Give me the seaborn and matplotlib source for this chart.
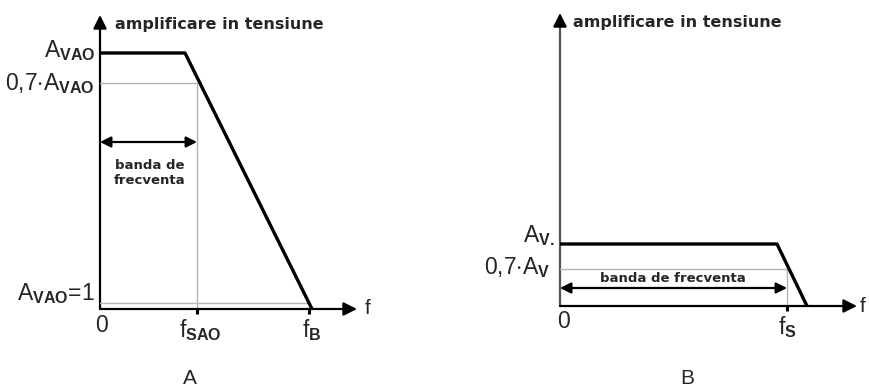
import matplotlib
matplotlib.use("Agg")
import matplotlib.pyplot as plt
import seaborn as sns

# Panel A (amplifier with AO, large gain)
freq_A = [0, 85, 212]
gain_A = [256, 256, 0]
cut_A = 97          # f_SAO
fB_A = 209          # f_B
level07_A = 226     # 0,7*A_VAO
unity_A = 6         # A_VAO = 1
band_y_A = 167

# Panel B (lower gain, wider band)
freq_B = [0, 217, 247]
gain_B = [62, 62, 0]
cut_B = 227         # f_S
level07_B = 37      # 0,7*A_V
band_y_B = 18

sns.set_theme(style="white")
plt.rcParams["font.family"] = ["Liberation Sans", "DejaVu Sans"]
plt.rcParams["mathtext.fontset"] = "custom"
plt.rcParams["mathtext.rm"] = "Liberation Sans"
plt.rcParams["mathtext.bf"] = "Liberation Sans:bold"
plt.rcParams["mathtext.it"] = "Liberation Sans"

W, H = 869, 391
fig = plt.figure(figsize=(W / 100, H / 100), dpi=100)
fig.patch.set_facecolor("white")


def make_axes(ox, oy, w, h):
    ax = fig.add_axes([ox / W, (H - oy) / H, w / W, h / H])
    ax.set_xlim(0, w)
    ax.set_ylim(0, h)
    ax.axis("off")
    return ax


def arrow(ax, start, end, color="black", style="-|>", scale=20):
    ax.annotate("", xy=end, xytext=start,
                arrowprops=dict(arrowstyle=style, color=color, lw=1.6,
                                mutation_scale=scale, shrinkA=0, shrinkB=0),
                annotation_clip=False)


def axis_arrows(ax, xtip, ytip, ycolor="black"):
    arrow(ax, (0, 0), (xtip, 0))
    # axis line in its own colour, black head on top
    ax.plot([0, 0], [0, ytip - 8], color=ycolor, lw=1.6, clip_on=False)
    arrow(ax, (0, ytip - 10), (0, ytip))


grey = "#b4b4b4"
title_kw = dict(fontsize=11.5, fontweight="bold", family="DejaVu Sans",
                ha="left", va="center")
band_kw = dict(fontsize=9.5, fontweight="bold", family="DejaVu Sans",
               ha="center", va="center")
lab = 16.5

# ---------------- Panel A ----------------
axA = make_axes(100, 309, 280, 300)
axis_arrows(axA, 257, 294)
axA.plot([0, cut_A], [level07_A, level07_A], color=grey, lw=1)
axA.plot([cut_A, cut_A], [0, level07_A], color=grey, lw=1)
axA.plot([0, fB_A], [unity_A, unity_A], color=grey, lw=1)
sns.lineplot(x=freq_A, y=gain_A, ax=axA, color="black", linewidth=2.4,
             sort=False, estimator=None)
for xt in (cut_A, fB_A):
    axA.plot([xt, xt], [0, -5], color="black", lw=2.2, clip_on=False,
             solid_capstyle="butt")
arrow(axA, (0, band_y_A), (cut_A, band_y_A), style="<|-|>", scale=16)
axA.text(50, 136, "banda de\nfrecventa", linespacing=1.25, **band_kw)
axA.text(15, 284, "amplificare in tensiune", **title_kw)
axA.text(-5, 258, r"A$_{\mathbf{VAO}}$", ha="right", va="center", fontsize=lab)
axA.text(-5, 225, r"0,7$\cdot$A$_{\mathbf{VAO}}$", ha="right", va="center",
         fontsize=lab)
axA.text(-5, 15, r"A$_{\mathbf{VAO}}$=1", ha="right", va="center", fontsize=lab)
axA.text(2, -17, "0", ha="center", va="center", fontsize=lab)
axA.text(cut_A + 3, -21, r"f$_{\mathbf{SAO}}$", ha="center", va="center",
         fontsize=lab)
axA.text(fB_A + 3, -21, r"f$_{\mathbf{B}}$", ha="center", va="center",
         fontsize=lab)
axA.text(268, 0, "f", ha="center", va="center", fontsize=15)
axA.text(90, -70, "A", ha="center", va="center", fontsize=15)

# ---------------- Panel B ----------------
axB = make_axes(560, 306, 310, 300)
axis_arrows(axB, 297, 293, ycolor="#555555")
axB.plot([0, cut_B], [level07_B, level07_B], color=grey, lw=1)
axB.plot([cut_B, cut_B], [0, level07_B], color=grey, lw=1)
sns.lineplot(x=freq_B, y=gain_B, ax=axB, color="black", linewidth=2.4,
             sort=False, estimator=None)
axB.plot([cut_B, cut_B], [0, -5], color="black", lw=2.2, clip_on=False,
         solid_capstyle="butt")
arrow(axB, (0, band_y_B), (cut_B, band_y_B), style="<|-|>", scale=16)
axB.text(113, 27, "banda de frecventa", **band_kw)
axB.text(13, 284, "amplificare in tensiune", **title_kw)
axB.text(-5, 70, r"A$_{\mathbf{V.}}$", ha="right", va="center", fontsize=lab)
axB.text(-10, 38, r"0,7$\cdot$A$_{\mathbf{V}}$", ha="right", va="center",
         fontsize=lab)
axB.text(3, -15, "0", ha="center", va="center", fontsize=lab)
axB.text(cut_B, -21, r"f$_{\mathbf{S}}$", ha="center", va="center",
         fontsize=lab)
axB.text(303, 0, "f", ha="center", va="center", fontsize=15)
axB.text(127, -73, "B", ha="center", va="center", fontsize=15)

fig.savefig("out.png", dpi=100, facecolor="white")
